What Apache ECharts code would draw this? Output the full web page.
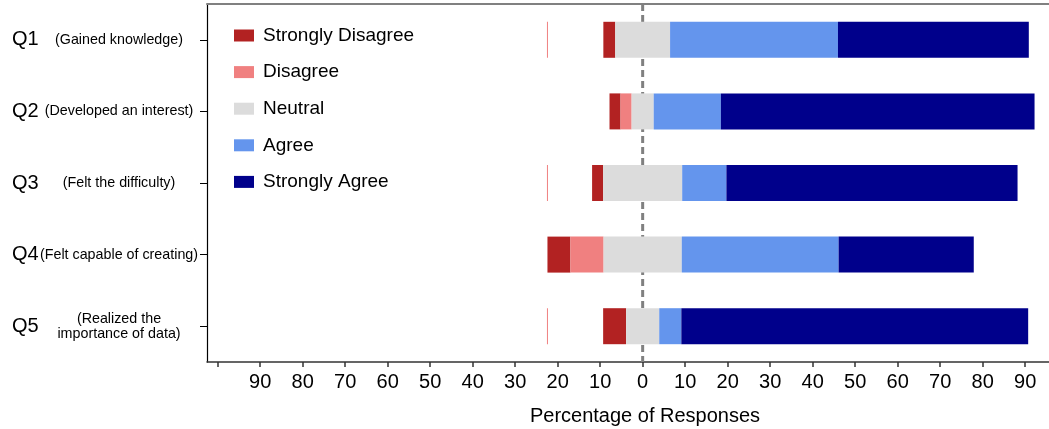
<!DOCTYPE html>
<html>
<head>
<meta charset="utf-8">
<script src="https://cdn.jsdelivr.net/npm/echarts@6/dist/echarts.min.js"></script>
<style>
html,body{margin:0;padding:0;background:#fff;}
#chart{width:1049px;height:429px;}
</style>
</head>
<body>
<div id="chart"></div>
<script>
// ---- data ----
var questions = ['Q1', 'Q2', 'Q3', 'Q4', 'Q5'];
var questionNotes = ['(Gained knowledge)', '(Developed an interest)', '(Felt the difficulty)', '(Felt capable of creating)', '(Realized the\nimportance of data)'];
var stronglyDisagree = [2.8, 2.6, 2.6, 5.4, 5.4];
var disagree = [0, 2.6, 0, 7.8, 0];
var neutral = [12.9, 5.2, 18.6, 18.4, 7.8];
var agree = [39.5, 15.8, 10.4, 36.9, 5.2];
var stronglyAgree = [44.9, 73.8, 68.5, 31.8, 81.6];
var tickValues = [-100, -90, -80, -70, -60, -50, -40, -30, -20, -10, 0, 10, 20, 30, 40, 50, 60, 70, 80, 90];
var labelValues = [-90, -80, -70, -60, -50, -40, -30, -20, -10, 0, 10, 20, 30, 40, 50, 60, 70, 80, 90];
var zeroLine = [0];

var colors = {
  sd: '#B22222', d: '#F08080', n: '#DCDCDC', a: '#6495ED', sa: '#00008B'
};
var FONT = '"Liberation Sans", Arial, sans-serif';

// invisible offset so each stack starts left of zero and Neutral is centred on 0
var leftOffset = questions.map(function (q, i) {
  return -(stronglyDisagree[i] + disagree[i] + neutral[i] / 2);
});
var maxLeft = 0;
leftOffset.forEach(function (v) { maxLeft = Math.max(maxLeft, -v); });
// zero-width "Disagree" bars drawn at the padded offset (thin edge)
var zeroEdges = [];
questions.forEach(function (q, i) {
  if (disagree[i] === 0) zeroEdges.push([-maxLeft, i]);
});

var chart = echarts.init(document.getElementById('chart'), null, { renderer: 'canvas' });

function bar(name, data, color, extra) {
  var s = {
    type: 'bar', stack: 'likert', stackStrategy: 'all', barWidth: 36, z: 3, yAxisIndex: 0,
    name: name, data: data,
    itemStyle: { color: color },
    emphasis: { disabled: true }
  };
  if (extra) Object.assign(s, extra);
  return s;
}

var option = {
  animation: false,
  textStyle: { fontFamily: FONT },
  grid: { left: 207, right: 0, top: 4, height: 358, containLabel: false, outerBoundsMode: 'none' },
  legend: {
    orient: 'vertical',
    left: 229,
    top: 19.5,
    itemWidth: 20,
    itemHeight: 12,
    itemGap: 14.6,
    icon: 'rect',
    data: ['Strongly Disagree', 'Disagree', 'Neutral', 'Agree', 'Strongly Agree'],
    textStyle: { fontSize: 19, lineHeight: 22, color: '#000', fontFamily: FONT, padding: [0, 0, 0, 4] },
    selectedMode: false
  },
  xAxis: [{
    type: 'value',
    min: -102.5,
    max: 95.6,
    position: 'bottom',
    name: 'Percentage of Responses',
    nameLocation: 'middle',
    nameGap: 44,
    nameTextStyle: { fontSize: 20, color: '#000', fontFamily: FONT, padding: [0, 0, 0, 34] },
    axisLine: { show: true, onZero: false, lineStyle: { color: '#333', width: 1.5 } },
    axisTick: { show: true, length: 5, customValues: tickValues, lineStyle: { color: '#333', width: 1.5 } },
    axisLabel: {
      customValues: labelValues,
      fontSize: 20, color: '#000', margin: 10, fontFamily: FONT,
      formatter: function (v) { return String(Math.abs(v)); }
    },
    splitLine: { show: false }
  }, {
    type: 'value',
    min: -102.5,
    max: 95.6,
    position: 'top',
    axisLine: { show: true, onZero: false, lineStyle: { color: '#808080', width: 2 } },
    axisTick: { show: false },
    axisLabel: { show: false },
    splitLine: { show: false }
  }],
  yAxis: [{
    type: 'category',
    data: questions,
    inverse: true,
    position: 'left',
    axisLine: { show: true, onZero: false, lineStyle: { color: '#000', width: 1.2 } },
    axisTick: { show: true, alignWithLabel: true, length: 7, lineStyle: { color: '#000' } },
    axisLabel: {
      align: 'center',
      margin: 88,
      fontSize: 14.3,
      lineHeight: 15,
      color: '#000',
      fontFamily: FONT,
      formatter: function (v, i) { return questionNotes[i]; }
    }
  }, {
    type: 'category',
    data: questions,
    inverse: true,
    position: 'left',
    axisLine: { show: false, onZero: false },
    axisTick: { show: false },
    axisLabel: { align: 'left', margin: 195, fontSize: 20, color: '#000', fontFamily: FONT }
  }],
  series: [
    {
      type: 'custom',
      name: 'zero',
      yAxisIndex: 0,
      z: 1,
      silent: true,
      data: zeroLine.map(function (v) { return [v]; }),
      encode: { x: 0 },
      renderItem: function (params, api) {
        var cs = params.coordSys;
        var x = api.coord([api.value(0), 0])[0];
        return {
          type: 'line',
          shape: { x1: x, y1: cs.y, x2: x, y2: cs.y + cs.height },
          style: { stroke: '#808080', lineWidth: 3, lineDash: [7, 4] }
        };
      }
    },
    bar('offset', leftOffset, 'rgba(0,0,0,0)', { silent: true }),
    bar('Strongly Disagree', stronglyDisagree, colors.sd),
    bar('Disagree', disagree, colors.d),
    bar('Neutral', neutral, colors.n),
    bar('Agree', agree, colors.a),
    bar('Strongly Agree', stronglyAgree, colors.sa),
    {
      type: 'custom',
      name: 'edge',
      yAxisIndex: 0,
      z: 3,
      silent: true,
      data: zeroEdges,
      encode: { x: 0, y: 1 },
      renderItem: function (params, api) {
        var pt = api.coord([api.value(0), api.value(1)]);
        var h = 36;
        return {
          type: 'rect',
          shape: { x: pt[0] - 0.5, y: pt[1] - h / 2, width: 1, height: h },
          style: { fill: colors.d }
        };
      }
    }
  ]
};
chart.setOption(option);
</script>
</body>
</html>
